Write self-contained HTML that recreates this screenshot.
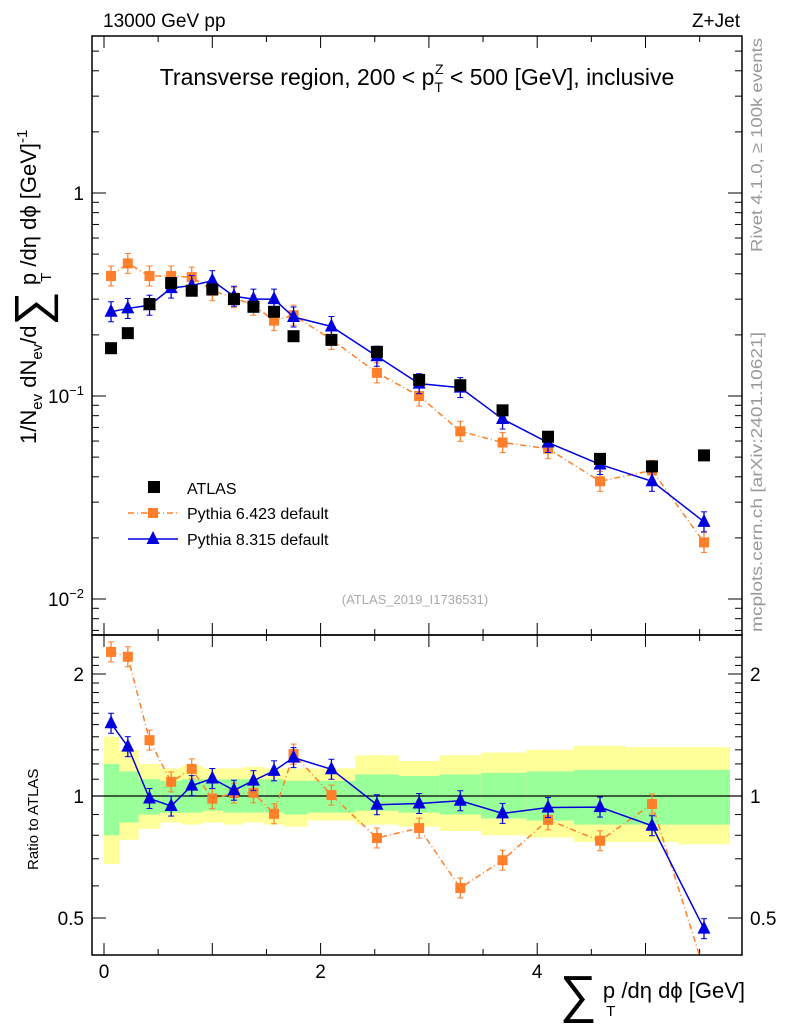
<!DOCTYPE html>
<html><head><meta charset="utf-8"><style>
body{margin:0;background:#fff;}
svg{font-family:"Liberation Sans",sans-serif;}
</style></head><body>
<svg id="c" width="786" height="1024" xmlns="http://www.w3.org/2000/svg">
<text x="103" y="27" font-size="19">13000 GeV pp</text>
<text x="740" y="27" font-size="19" text-anchor="end">Z+Jet</text>
<text x="417" y="85" font-size="23" text-anchor="middle">Transverse region, 200 &lt; p<tspan font-size="14" dy="7">T</tspan><tspan font-size="14" dx="-8" dy="-18">Z</tspan><tspan dy="11"> &lt; 500 [GeV], inclusive</tspan></text>
<text transform="translate(762,252) rotate(-90)" font-size="16" fill="#999" textLength="214" lengthAdjust="spacingAndGlyphs">Rivet 4.1.0, ≥ 100k events</text>
<text transform="translate(762,632) rotate(-90)" font-size="16" fill="#999" textLength="300" lengthAdjust="spacingAndGlyphs">mcplots.cern.ch [arXiv:2401.10621]</text>
<text x="415" y="604" font-size="13" fill="#aaa" text-anchor="middle">(ATLAS_2019_I1736531)</text>
<text transform="translate(36,444) rotate(-90)" font-size="22">1/N<tspan font-size="15" dy="6">ev</tspan><tspan dy="-6"> dN</tspan><tspan font-size="15" dy="6">ev</tspan><tspan dy="-6">/d</tspan><tspan font-size="48" dy="12">∑</tspan><tspan dy="-12"> p</tspan><tspan font-size="15" dx="-9" dy="15">T</tspan><tspan dy="-15"> /dη dϕ  [GeV]</tspan><tspan font-size="15" dy="-9">-1</tspan></text>
<text transform="translate(38,870) rotate(-90)" font-size="15">Ratio to ATLAS</text>
<text x="745" y="998" font-size="22" text-anchor="end"><tspan font-size="52" dy="14">∑</tspan><tspan dy="-14"> p</tspan><tspan font-size="15" dx="-9" dy="18">T</tspan><tspan dy="-18"> /dη dϕ [GeV]</tspan></text>
<g id="g"></g>
</svg>
<script>
const centers=[0.065,0.22,0.42,0.62,0.81,1.0,1.2,1.38,1.57,1.75,2.1,2.52,2.91,3.29,3.68,4.1,4.58,5.06,5.54];
const edges=[0,0.14,0.32,0.52,0.72,0.91,1.1,1.29,1.48,1.66,1.88,2.32,2.72,3.1,3.48,3.9,4.34,4.82,5.3,5.78];
const atlas=[0.172,0.204,0.284,0.36,0.33,0.335,0.30,0.275,0.26,0.197,0.189,0.165,0.12,0.113,0.085,0.063,0.049,0.045,0.051];
const py6=[0.39,0.45,0.39,0.39,0.385,0.33,0.305,0.28,0.235,0.25,0.19,0.13,0.10,0.067,0.059,0.055,0.038,0.043,0.019];
const py8=[0.26,0.27,0.28,0.34,0.35,0.37,0.31,0.30,0.30,0.245,0.22,0.157,0.115,0.11,0.077,0.059,0.046,0.038,0.024];
const yUp=[1.40,1.30,1.20,1.17,1.19,1.17,1.17,1.18,1.17,1.17,1.17,1.26,1.22,1.26,1.28,1.30,1.33,1.32,1.32];
const yDn=[0.68,0.78,0.83,0.86,0.85,0.86,0.85,0.86,0.85,0.84,0.87,0.85,0.84,0.82,0.80,0.79,0.77,0.77,0.76];
const gUp=[1.20,1.15,1.10,1.09,1.10,1.10,1.10,1.10,1.10,1.09,1.09,1.13,1.12,1.13,1.14,1.15,1.16,1.16,1.16];
const gDn=[0.80,0.86,0.90,0.91,0.91,0.92,0.91,0.91,0.91,0.90,0.91,0.92,0.91,0.90,0.88,0.87,0.85,0.85,0.85];
const xTicks=[0,2,4];
const L=92,R=742,T1=36,B1=635,T2=635,B2=955;
const X=v=>104+v*108.3;
const Y=v=>193-203*Math.log10(v);
const YR=r=>796-122*Math.log2(r);
const g=document.getElementById('g');
const NS='http://www.w3.org/2000/svg';
function el(t,a,p){const e=document.createElementNS(NS,t);for(const k in a)e.setAttribute(k,a[k]);(p||g).appendChild(e);return e;}
const cp=el('clipPath',{id:'cr'});el('rect',{x:L,y:T2,width:R-L,height:B2-T2},cp);
const bands=el('g',{'clip-path':'url(#cr)'});
for(let i=0;i<centers.length;i++){
 const x0=X(edges[i]),x1=X(edges[i+1]);
 let r=el('rect',{x:x0,y:YR(yUp[i]),width:x1-x0,height:YR(yDn[i])-YR(yUp[i]),fill:'#ffff99'},bands);
 
 
 r=el('rect',{x:x0,y:YR(gUp[i]),width:x1-x0,height:YR(gDn[i])-YR(gUp[i]),fill:'#99ff99'},bands);
 
 
}
el('line',{x1:L,x2:R,y1:YR(1),y2:YR(1),stroke:'#000','stroke-width':1.2});
for(const [t,b] of [[T1,B1],[T2,B2]]){const f=el('rect',{x:L,y:t,width:R-L,height:b-t,fill:'none',stroke:'#000','stroke-width':1.5});
 
 }
for(let v=0;v<=5.75;v+=0.5){const big=Math.abs(v-Math.round(v))<1e-6;const x=X(v),h=big?12:6;
 for(const [t,b] of [[T1,B1],[T2,B2]]){el('line',{x1:x,x2:x,y1:b,y2:b-h,stroke:'#000'});el('line',{x1:x,x2:x,y1:t,y2:t+h,stroke:'#000'});}}
xTicks.forEach(v=>{const t=el('text',{x:X(v),y:978,'font-size':19,'text-anchor':'middle'});t.textContent=v;
 
 });
for(let d=-3;d<=0;d++)for(let m=1;m<=9;m++){const v=m*Math.pow(10,d),y=Y(v);if(y<T1||y>B1)continue;const h=m==1?14:7;
 el('line',{x1:L,x2:L+h,y1:y,y2:y,stroke:'#000'});el('line',{x1:R,x2:R-h,y1:y,y2:y,stroke:'#000'});}
[[1,'1'],[0.1,'10'],[0.01,'10']].forEach(([v,s],i)=>{const t=el('text',{x:84,y:Y(v)+7,'font-size':19,'text-anchor':'end'});t.textContent=s;
 if(i){const sp=el('tspan',{'font-size':13,dy:-8},t);sp.textContent=i==1?'−1':'−2';}
 
 });
for(let r=0.4;r<=2.3;r+=0.1){const y=YR(r);if(y<T2||y>B2)continue;const big=[0.5,1,2].some(q=>Math.abs(q-r)<1e-6);const h=big?14:7;
 el('line',{x1:L,x2:L+h,y1:y,y2:y,stroke:'#000'});el('line',{x1:R,x2:R-h,y1:y,y2:y,stroke:'#000'});}
[2,1,0.5].forEach(v=>{for(const [x,a] of [[84,'end'],[750,'start']]){const t=el('text',{x,y:YR(v)+7,'font-size':19,'text-anchor':a});t.textContent=v;
 
 }});
function series(vals,ratio,color,dash,marker,name){
 const ys=ratio?vals.map((v,i)=>YR(v/atlas[i])):vals.map(Y);
 const pts=centers.map((c,i)=>X(c)+','+ys[i]).join(' ');
 const clip=ratio?'url(#cr)':null;
 const grp=el('g',clip?{'clip-path':clip}:{});
 const pl=el('polyline',{points:pts,fill:'none',stroke:color,'stroke-width':1.5,'stroke-dasharray':dash},grp);
 
 
 centers.forEach((c,i)=>{const x=X(c),y=ys[i];
  el('line',{x1:x,x2:x,y1:y-10,y2:y+10,stroke:color,'stroke-width':1.3},grp);
  el('line',{x1:x-3,x2:x+3,y1:y-10,y2:y-10,stroke:color},grp);el('line',{x1:x-3,x2:x+3,y1:y+10,y2:y+10,stroke:color},grp);
  let m;
  if(marker=='sq')m=el('rect',{x:x-5,y:y-5,width:10,height:10,fill:color},grp);
  else m=el('polygon',{points:`${x},${y-8} ${x-6.5},${y+5} ${x+6.5},${y+5}`,fill:color},grp);
  
  });
}
series(py6,false,'#ff7f2a','6,3,1,3','sq','pythia6');
series(py8,false,'#0000dd','','tri','pythia8');
atlas.forEach((v,i)=>{const r=el('rect',{x:X(centers[i])-6,y:Y(v)-6,width:12,height:12,fill:'#000'});
 
 });
series(py6,true,'#ff7f2a','6,3,1,3','sq','pythia6-ratio');
series(py8,true,'#0000dd','','tri','pythia8-ratio');
const lg=el('g',{});


el('rect',{x:148,y:481,width:12,height:12,fill:'#000'},lg);
let t=el('text',{x:187,y:494,'font-size':16},lg);t.textContent='ATLAS';
el('line',{x1:128,x2:178,y1:513,y2:513,stroke:'#ff7f2a','stroke-width':1.5,'stroke-dasharray':'6,3,1,3'},lg);
el('rect',{x:148,y:508,width:10,height:10,fill:'#ff7f2a'},lg);
t=el('text',{x:187,y:519,'font-size':16},lg);t.textContent='Pythia 6.423 default';
el('line',{x1:128,x2:178,y1:539,y2:539,stroke:'#0000dd','stroke-width':1.5},lg);
el('polygon',{points:'153,531 146.5,544 159.5,544',fill:'#0000dd'},lg);
t=el('text',{x:187,y:545,'font-size':16},lg);t.textContent='Pythia 8.315 default';
</script>
</body></html>
